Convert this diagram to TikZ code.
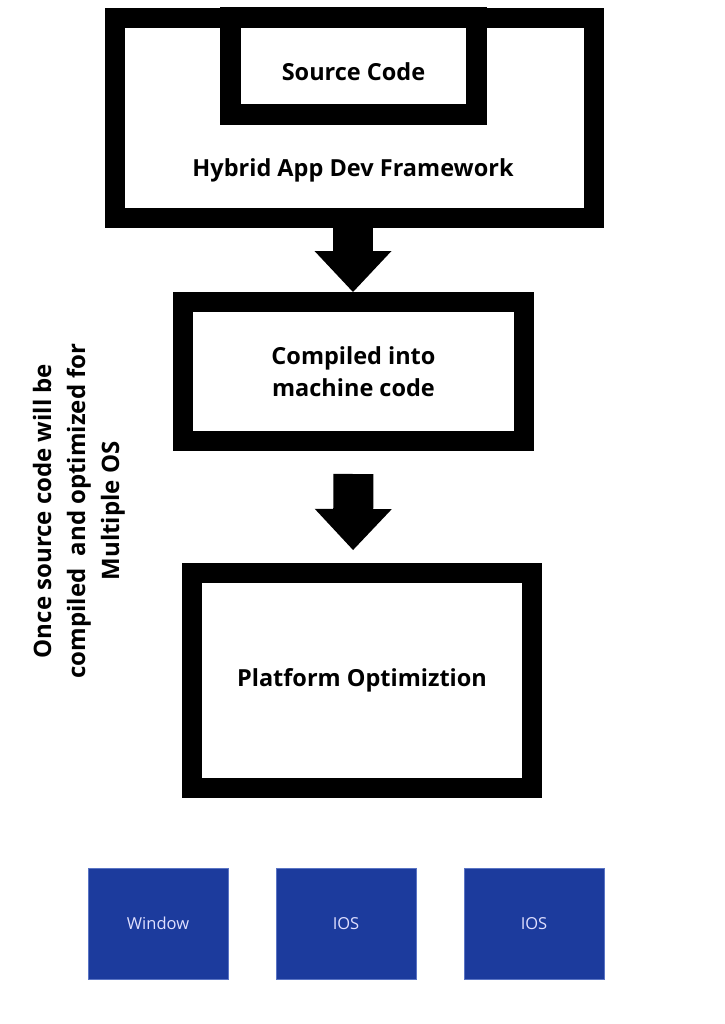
\documentclass[tikz,border=0pt]{standalone}
\usepackage{fontspec}
\setmainfont{Open Sans}
\usetikzlibrary{arrows.meta}
\definecolor{boxblue}{HTML}{1C3B9D}
\definecolor{edgeblue}{HTML}{5A74C4}
\tikzset{
  frame/.style={rectangle, draw=black, line width=20pt, fill=white,
    align=center, font=\fontsize{23.5}{32}\selectfont\bfseries, inner sep=0pt},
  osbox/.style={rectangle, fill=boxblue, draw=edgeblue, line width=0.8pt,
    minimum width=140pt, minimum height=111pt, text=white!88!blue,
    font=\fontsize{16.5}{19}\selectfont},
  blockarrow/.style={draw=black, line width=40pt,
    -{Triangle[length=41pt, width=77pt, line width=0pt]}}
}
\begin{document}
\begin{tikzpicture}[x=1pt, y=-1pt]
    \useasboundingbox (0,0) rectangle (724,1024);
    % Place nodes
    \node [frame, minimum width=479pt, minimum height=200pt] (framework)
           at (354.5,118) {};
    \node [frame, line width=21pt, minimum width=246pt, minimum height=96.5pt,
           text height=29.5pt, text depth=0pt] (source) at (353.5,66.25) {Source Code};
    \node [font=\fontsize{23.5}{32}\selectfont\bfseries] (fwlabel) at (353,170)
           {Hybrid App Dev Framework};
    \node [frame, minimum width=341pt, minimum height=139pt] (compiled)
           at (353.5,371.5) {Compiled into\\machine code};
    \node [frame, minimum width=340pt, minimum height=215pt] (platform)
           at (362,680.5) {Platform Optimiztion};
    \node [osbox] (windows) at (158,923.5) {Window};
    \node [osbox] (ios) at (346,923.5) {IOS};
    \node [osbox] (iosb) at (534,923.5) {IOS};
    \node [rotate=90, align=center, font=\fontsize{24}{34}\selectfont\bfseries]
           (note) at (79,511) {Once source code will be\\compiled\ \ and optimized for\\Multiple OS};
    % Draw arrows
    \draw [blockarrow] ([xshift=-1.5pt]framework.south) -- ([xshift=-0.5pt]compiled.north);
    \draw [blockarrow, shorten <=23pt, shorten >=13pt] (compiled.south) -- ([xshift=-9pt]platform.north);
\end{tikzpicture}
\end{document}
